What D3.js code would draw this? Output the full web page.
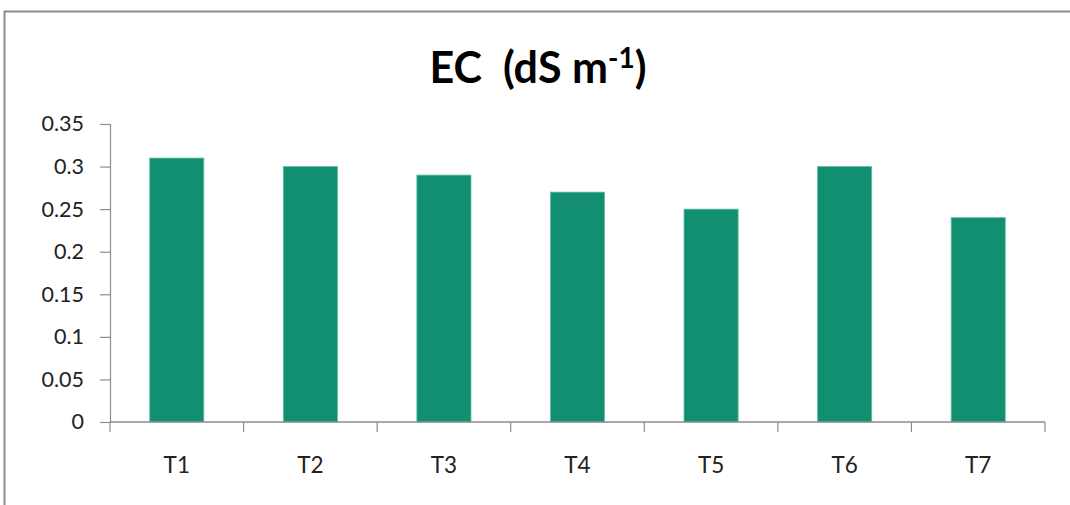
<!DOCTYPE html>
<html>
<head>
<meta charset="utf-8">
<script src="https://cdn.jsdelivr.net/npm/d3@7"></script>
<style>
  html, body { margin: 0; padding: 0; background: #fff; }
  svg { display: block; }
</style>
</head>
<body>
<svg id="chart" width="1070" height="505"></svg>
<script>
// Treatments and measured electrical conductivity
const categories = ["T1", "T2", "T3", "T4", "T5", "T6", "T7"];
const ecValues = [0.31, 0.30, 0.29, 0.27, 0.25, 0.30, 0.24];
const yTicks = [0, 0.05, 0.1, 0.15, 0.2, 0.25, 0.3, 0.35];

const svg = d3.select("#chart");
const font = "Lato, 'Open Sans', 'DejaVu Sans', sans-serif";

// outer chart frame (extends past the right and bottom edges)
svg.append("rect")
  .attr("x", 4.5).attr("y", 11.5)
  .attr("width", 1100).attr("height", 520)
  .attr("fill", "#fff")
  .attr("stroke", "#8c8c8c").attr("stroke-width", 2);

const plot = { left: 110, right: 1045, top: 124, bottom: 422 };

const x = d3.scaleBand()
  .domain(categories)
  .range([plot.left, plot.right])
  .paddingInner(0.595)
  .paddingOuter(0.2975);

const y = d3.scaleLinear()
  .domain([0, 0.35])
  .range([plot.bottom, plot.top]);

// bars
svg.append("g").selectAll("rect")
  .data(categories)
  .join("rect")
  .attr("x", d => x(d))
  .attr("width", x.bandwidth())
  .attr("y", (d, i) => y(ecValues[i]))
  .attr("height", (d, i) => y(0) - y(ecValues[i]))
  .attr("fill", "#118f70")
  .attr("stroke", "#5fbfa2")
  .attr("stroke-width", 0.8);

// y axis
const yAxis = d3.axisLeft(y)
  .tickValues(yTicks)
  .tickFormat(d => d === 0 ? "0" : String(+d.toFixed(2)))
  .tickSize(10)
  .tickPadding(16);

const gy = svg.append("g")
  .attr("transform", `translate(${plot.left},0)`)
  .call(yAxis);
gy.select(".domain").attr("stroke", "#8c8c8c").attr("stroke-width", 1.2);
gy.selectAll(".tick line").attr("stroke", "#8c8c8c").attr("stroke-width", 1.2);
gy.selectAll(".tick text")
  .attr("fill", "#222")
  .style("font-family", font)
  .style("font-size", "21.5px");

// x axis: boundary ticks between categories
const bounds = d3.range(categories.length + 1).map(i => plot.left + i * x.step());
const gx = svg.append("g");
gx.append("line")
  .attr("x1", plot.left).attr("x2", plot.right)
  .attr("y1", y(0)).attr("y2", y(0))
  .attr("stroke", "#8c8c8c").attr("stroke-width", 1.5);
gx.selectAll("line.tk")
  .data(bounds)
  .join("line")
  .attr("class", "tk")
  .attr("x1", d => d).attr("x2", d => d)
  .attr("y1", y(0)).attr("y2", y(0) + 10)
  .attr("stroke", "#8c8c8c").attr("stroke-width", 1.2);
gx.selectAll("text")
  .data(categories)
  .join("text")
  .attr("x", d => x(d) + x.bandwidth() / 2)
  .attr("y", 473)
  .attr("text-anchor", "middle")
  .attr("fill", "#222")
  .style("font-family", font)
  .style("font-size", "22.5px")
  .text(d => d);

// title with superscript unit exponent
const title = svg.append("text")
  .attr("x", 538).attr("y", 83)
  .attr("text-anchor", "middle")
  .attr("xml:space", "preserve")
  .style("white-space", "pre")
  .style("font-family", font)
  .style("font-weight", "bold")
  .style("font-size", "43px")
  .attr("fill", "#000");
title.append("tspan").text("EC  (dS m");
title.append("tspan").attr("dy", -15).style("font-size", "28px").text("-1");
title.append("tspan").attr("dy", 15).text(")");
</script>
</body>
</html>
